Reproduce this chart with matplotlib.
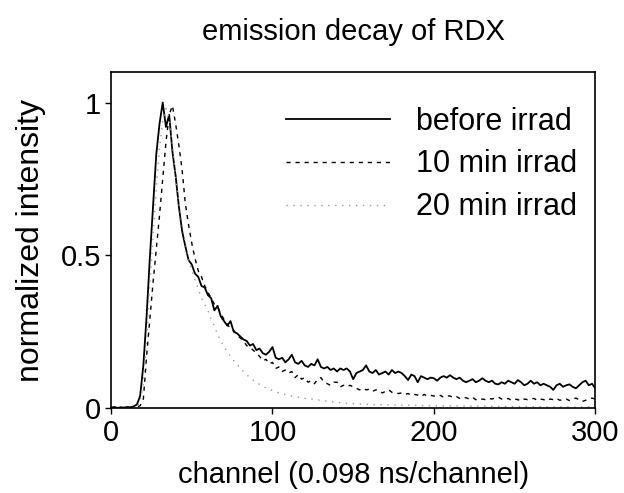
import numpy as np
import matplotlib
matplotlib.use("Agg")
import matplotlib.pyplot as plt

plt.rcParams['font.family'] = ['Liberation Sans', 'DejaVu Sans']

# channel grid (every 2nd channel)
channel = np.arange(0, 301, 2)

before = [
    0.002, 0.004, 0.001, 0.003, 0.002, 0.004, 0.003, 0.006, 0.012, 0.04,
    0.14, 0.30, 0.49, 0.66, 0.83, 0.93, 1.00, 0.92, 0.96, 0.84,
    0.76, 0.66, 0.58, 0.53, 0.485, 0.47, 0.44, 0.43, 0.40, 0.395,
    0.37, 0.36, 0.32, 0.335, 0.30, 0.285, 0.27, 0.285, 0.25, 0.245,
    0.235, 0.225, 0.22, 0.205, 0.21, 0.19, 0.195, 0.18, 0.175, 0.185,
    0.20, 0.165, 0.16, 0.165, 0.15, 0.16, 0.175, 0.15, 0.145, 0.155,
    0.14, 0.135, 0.145, 0.14, 0.16, 0.135, 0.13, 0.135, 0.125, 0.13,
    0.12, 0.13, 0.125, 0.13, 0.12, 0.095, 0.115, 0.12, 0.125, 0.14,
    0.12, 0.115, 0.125, 0.11, 0.115, 0.12, 0.11, 0.125, 0.115, 0.12,
    0.115, 0.105, 0.092, 0.11, 0.105, 0.085, 0.105, 0.10, 0.095, 0.10,
    0.098, 0.09, 0.10, 0.105, 0.10, 0.108, 0.10, 0.095, 0.10, 0.09,
    0.085, 0.09, 0.095, 0.085, 0.09, 0.098, 0.09, 0.085, 0.09, 0.08,
    0.078, 0.085, 0.08, 0.09, 0.085, 0.08, 0.092, 0.085, 0.075, 0.08,
    0.09, 0.08, 0.085, 0.075, 0.08, 0.075, 0.07, 0.06, 0.075, 0.08,
    0.07, 0.075, 0.078, 0.07, 0.065, 0.075, 0.085, 0.09, 0.075, 0.08,
    0.065,
]

min10 = [
    0.001, 0.002, 0.001, 0.002, 0.001, 0.002, 0.002, 0.003, 0.004, 0.008,
    0.03, 0.17, 0.29, 0.41, 0.52, 0.63, 0.75, 0.87, 0.96, 0.99,
    0.93, 0.86, 0.78, 0.67, 0.60, 0.54, 0.49, 0.45, 0.43, 0.40,
    0.38, 0.36, 0.34, 0.33, 0.31, 0.29, 0.275, 0.26, 0.255, 0.24,
    0.23, 0.22, 0.205, 0.20, 0.19, 0.18, 0.17, 0.155, 0.16, 0.145,
    0.15, 0.13, 0.135, 0.12, 0.125, 0.115, 0.12, 0.10, 0.11, 0.095,
    0.10, 0.085, 0.09, 0.08, 0.095, 0.10, 0.085, 0.08, 0.075, 0.085,
    0.085, 0.07, 0.075, 0.07, 0.075, 0.07, 0.065, 0.06, 0.065, 0.06,
    0.062, 0.055, 0.06, 0.058, 0.05, 0.055, 0.06, 0.052, 0.05, 0.048,
    0.05, 0.045, 0.048, 0.042, 0.045, 0.043, 0.038, 0.045, 0.04, 0.042,
    0.04, 0.038, 0.042, 0.036, 0.04, 0.04, 0.035, 0.038, 0.032, 0.036,
    0.034, 0.03, 0.035, 0.028, 0.026, 0.03, 0.028, 0.032, 0.03, 0.034,
    0.036, 0.03, 0.028, 0.032, 0.026, 0.03, 0.028, 0.024, 0.03, 0.028,
    0.03, 0.032, 0.026, 0.03, 0.028, 0.024, 0.03, 0.028, 0.032, 0.026,
    0.028, 0.03, 0.025, 0.03, 0.033, 0.028, 0.022, 0.026, 0.03, 0.033,
    0.03,
]

min20 = [
    0.0, 0.001, 0.0, 0.001, 0.0, 0.001, 0.001, 0.002, 0.004, 0.02,
    0.08, 0.22, 0.40, 0.56, 0.72, 0.85, 0.94, 0.98, 0.95, 0.86,
    0.76, 0.67, 0.60, 0.54, 0.49, 0.45, 0.42, 0.39, 0.36, 0.34,
    0.32, 0.29, 0.27, 0.24, 0.22, 0.20, 0.185, 0.17, 0.155, 0.145,
    0.13, 0.12, 0.11, 0.10, 0.092, 0.085, 0.078, 0.072, 0.066, 0.062,
    0.058, 0.054, 0.05, 0.047, 0.045, 0.042, 0.04, 0.038, 0.036, 0.034,
    0.032, 0.031, 0.03, 0.028, 0.027, 0.026, 0.024, 0.023, 0.022, 0.02,
    0.019, 0.018, 0.017, 0.016, 0.016, 0.015, 0.014, 0.014, 0.013, 0.013,
    0.012, 0.012, 0.011, 0.012, 0.011, 0.010, 0.011, 0.010, 0.010, 0.011,
    0.010, 0.009, 0.010, 0.009, 0.009, 0.010, 0.008, 0.009, 0.008, 0.009,
    0.008, 0.008, 0.009, 0.007, 0.008, 0.008, 0.007, 0.008, 0.007, 0.007,
    0.008, 0.007, 0.006, 0.007, 0.007, 0.006, 0.007, 0.006, 0.006, 0.007,
    0.006, 0.006, 0.005, 0.006, 0.006, 0.005, 0.006, 0.005, 0.005, 0.006,
    0.005, 0.005, 0.004, 0.005, 0.005, 0.004, 0.005, 0.004, 0.005, 0.004,
    0.004, 0.005, 0.004, 0.004, 0.003, 0.004, 0.004, 0.003, 0.004, 0.003,
    0.003,
]

labels = ["before irrad", "10 min irrad", "20 min irrad"]
xticks = [0, 100, 200, 300]
yticks = [0, 0.5, 1]
yticklabels = ["0", "0.5", "1"]

fig = plt.figure(figsize=(6.24, 4.93), dpi=100)
ax = fig.add_axes([0.178, 0.172, 0.776, 0.682])

ax.plot(channel, before, color="black", lw=1.3, label=labels[0])
ax.plot(channel, min10, color="black", lw=1.0, linestyle=(0, (3, 3.5)), label=labels[1])
ax.plot(channel, min20, color="0.6", lw=1.0, linestyle=(0, (1, 4)), label=labels[2])

ax.set_xlim(0, 300)
ax.set_ylim(0, 1.1)
ax.set_xticks(xticks)
ax.set_yticks(yticks)
ax.set_yticklabels(yticklabels)
ax.tick_params(direction="out", length=4, width=1, labelsize=21)
ax.tick_params(axis="x", pad=4)
ax.tick_params(axis="y", pad=3)
for s in ax.spines.values():
    s.set_linewidth(1.2)

ax.set_xlabel("channel (0.098 ns/channel)", fontsize=21, labelpad=10)
ax.set_ylabel("normalized intensity", fontsize=23, labelpad=11)
ax.set_title("emission decay of RDX", fontsize=21, pad=23)

ax.legend(loc="upper right", bbox_to_anchor=(0.962, 0.897), frameon=False,
          fontsize=22, handlelength=3.4, handletextpad=0.85,
          labelspacing=0.42, borderpad=0, borderaxespad=0)

fig.savefig("out.png", dpi=100)
